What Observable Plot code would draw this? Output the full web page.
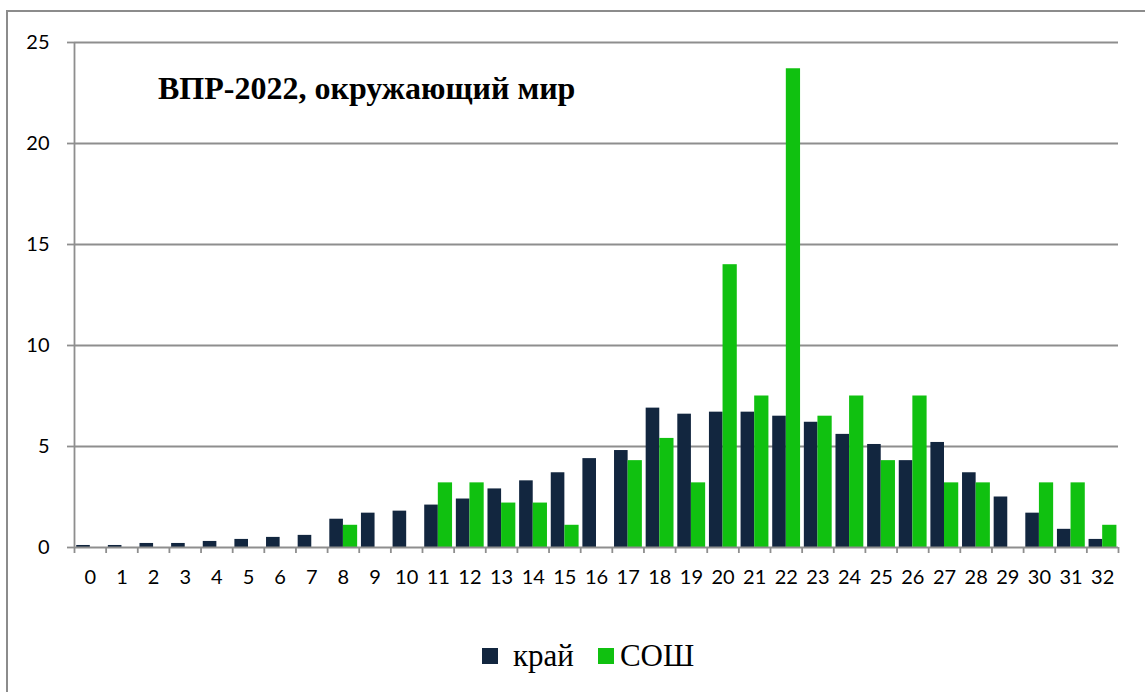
<!DOCTYPE html>
<html>
<head>
<meta charset="utf-8">
<script src="https://cdn.jsdelivr.net/npm/d3@7"></script>
<script src="https://cdn.jsdelivr.net/npm/@observablehq/plot@0.6"></script>
<style>
  html, body { margin: 0; padding: 0; background: #fff; overflow: hidden; }
  #frame { position: absolute; left: 6px; top: 10px; width: 1160px; height: 700px;
           border-left: 2px solid #8c8c8c; border-top: 2px solid #8c8c8c; }
  #chart { position: absolute; left: 0; top: 0; }
  #title { position: absolute; left: 150px; top: 60px; font-family: "Liberation Serif", serif;
           font-weight: bold; font-size: 32px; line-height: 1; color: #000; white-space: nowrap; }
  #legend { position: absolute; left: 474px; top: 626px; display: flex; align-items: center;
            font-family: "Liberation Serif", serif; font-size: 31px; color: #000; }
  .sw { display: inline-block; width: 16px; height: 16px; }
</style>
</head>
<body>
<div id="frame">
  <div id="chart"></div>
  <div id="title">ВПР-2022, окружающий мир</div>
  <div id="legend">
    <span class="sw" style="background:#12263f"></span><span style="margin-left:15px;margin-right:24px">край</span>
    <span class="sw" style="background:#10c110"></span><span style="margin-left:6px">СОШ</span>
  </div>
</div>
<script>
const categories = d3.range(0, 33);
const krai = [0.1, 0.1, 0.2, 0.2, 0.3, 0.4, 0.5, 0.6, 1.4, 1.7, 1.8, 2.1, 2.4, 2.9, 3.3, 3.7, 4.4, 4.8, 6.9, 6.6, 6.7, 6.7, 6.5, 6.2, 5.6, 5.1, 4.3, 5.2, 3.7, 2.5, 1.7, 0.9, 0.4];
const sosh = [0, 0, 0, 0, 0, 0, 0, 0, 1.1, 0, 0, 3.2, 3.2, 2.2, 2.2, 1.1, 0, 4.3, 5.4, 3.2, 14.0, 7.5, 23.7, 6.5, 7.5, 4.3, 7.5, 3.2, 3.2, 0, 3.2, 3.2, 1.1];
const yTicks = [0, 5, 10, 15, 20, 25];
const seriesNames = ["край", "СОШ"];
const seriesColors = ["#12263f", "#10c110"];

const kraiData = categories.map((c, i) => ({c, v: krai[i]}));
const soshData = categories.map((c, i) => ({c, v: sosh[i]})).filter(d => d.v > 0);
const boundaries = d3.range(-0.5, 33, 1);

const grey = "#8e8e8e";
const plot = Plot.plot({
  width: 1138,
  height: 610,
  marginLeft: 66,
  marginRight: 28,
  marginTop: 30,
  marginBottom: 75,
  style: {fontFamily: "Lato, 'Open Sans', sans-serif", fontSize: "20px", color: "#000", background: "transparent"},
  x: {domain: [-0.5, 32.5], axis: null, label: null},
  y: {domain: [0, 25], axis: null, label: null},
  marks: [
    Plot.gridY(yTicks.filter(v => v > 0), {stroke: grey, strokeOpacity: 1, strokeWidth: 1.8}),
    Plot.rectY(kraiData, {x1: d => d.c - 0.43, x2: d => d.c, y: "v", fill: seriesColors[0]}),
    Plot.rectY(soshData, {x1: d => d.c, x2: d => d.c + 0.45, y: "v", fill: seriesColors[1]}),
    Plot.ruleY([0], {stroke: grey, strokeWidth: 1.8}),
    Plot.ruleX([-0.5], {y1: 0, y2: 25, stroke: grey, strokeWidth: 1.8}),
    Plot.axisY(yTicks, {tickSize: 7, tickFormat: () => "", label: null, stroke: grey, strokeWidth: 1.8}),
    Plot.axisY(yTicks, {tickSize: 0, tickPadding: 25, label: null, fill: "#000", fontSize: 20}),
    Plot.axisX(boundaries, {tickSize: 6, tickFormat: () => "", label: null, stroke: grey, strokeWidth: 1.8}),
    Plot.axisX(categories, {tickSize: 0, tickPadding: 22, label: null, fill: "#000", fontSize: 20, tickFormat: d => String(d)})
  ]
});
document.getElementById("chart").appendChild(plot);
</script>
</body>
</html>
